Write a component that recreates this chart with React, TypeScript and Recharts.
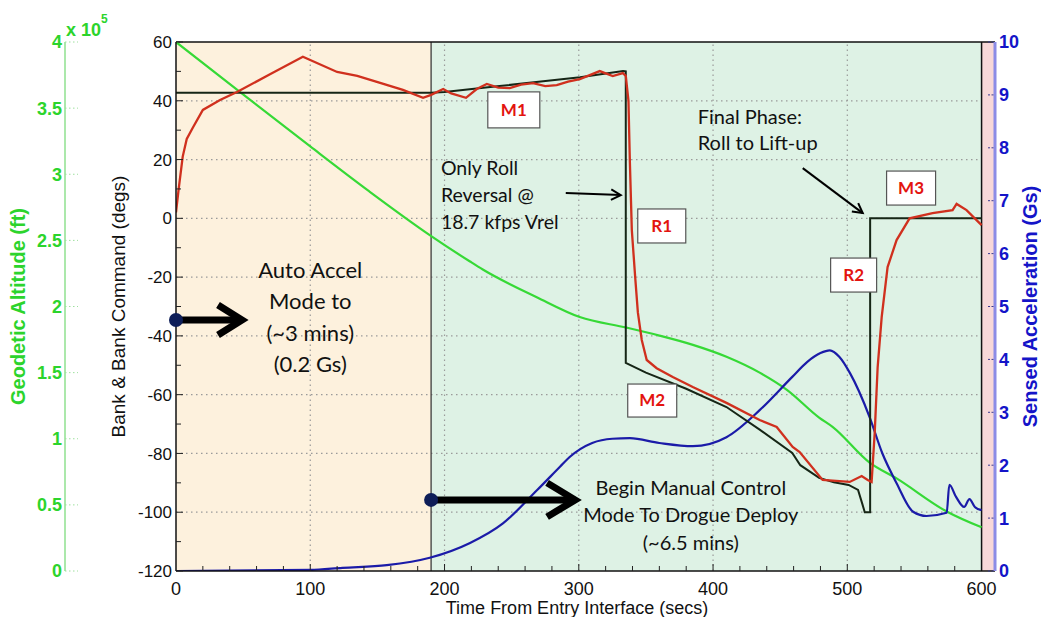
import React from 'react';
import {
  ComposedChart, Line, XAxis, YAxis,
  ReferenceArea, ReferenceLine, ReferenceDot,
} from 'recharts';

// bank command (black)
const cmdTime = [0, 190, 200, 217, 241, 270, 301, 333, 335, 335, 350, 380, 410, 435, 459, 465, 479, 490, 501, 508, 511, 513, 517, 517, 600];
const cmdDeg = [42.7, 42.7, 43, 43.8, 45, 46.5, 48, 50.1, 50, -49.2, -52.5, -58, -64.2, -72, -79.8, -84, -88.3, -89.8, -90.7, -92.4, -96.9, -100, -100, 0, 0];

// actual bank (red)
const bankTime = [0, 2, 5, 8, 12.7, 20, 32.8, 45.4, 70, 94.5, 120, 135, 149.6, 169, 184, 190, 199, 205, 216, 224, 231.5, 240, 248.6, 257, 266, 275, 283.6, 292, 300.8, 315.6, 325.3, 332.8, 335, 337, 338, 339.5, 342, 344, 346.9, 350.6, 358, 370, 384.9, 410, 434.7, 447.4, 459.3, 464.5, 481.6, 501.8, 510.7, 515.2, 518.1, 520.4, 522.6, 525.6, 530, 536.7, 546.4, 563.5, 578.4, 581.4, 588.8, 600];
const bankDeg = [2, 10, 21, 27, 31, 36.9, 40.3, 43, 49, 55, 49.8, 48.5, 46.4, 43.7, 41, 42, 44, 42.5, 41, 44, 45.7, 44.5, 44.3, 45.5, 46, 45, 45.3, 46.5, 47.4, 50.1, 48.4, 49.4, 48.5, 40, 20, -4, -20, -32, -41.4, -48.2, -51, -54, -57.4, -62.8, -68.6, -71, -77.8, -79.5, -89, -89.7, -87.7, -89, -89.7, -73, -50.6, -33.6, -16.6, -7.4, 0, 1.8, 2.8, 4.9, 2.8, -2.3];

// geodetic altitude, x 10^5 ft (green)
const altTime = [0, 45.4, 100, 144, 189, 219, 228.5, 268.7, 300.7, 335.7, 360, 385, 410, 434.7, 455, 479, 489, 516.6, 536.7, 574, 600];
const altVal = [4.0, 3.64, 3.21, 2.87, 2.54, 2.34, 2.28, 2.07, 1.92, 1.84, 1.78, 1.71, 1.62, 1.5, 1.37, 1.16, 1.09, 0.82, 0.7, 0.45, 0.33];

// sensed acceleration, Gs (blue)
const accTime = [0, 100, 124, 157, 189, 219, 243.5, 269, 286, 293, 310, 325, 338, 360, 385, 410, 434.7, 459, 470, 480, 487, 494, 502, 516.6, 526, 536.7, 549, 559, 574, 576, 581, 587, 591, 595, 600];
const accVal = [0, 0.02, 0.06, 0.11, 0.25, 0.53, 0.9, 1.53, 1.97, 2.15, 2.42, 2.5, 2.51, 2.42, 2.36, 2.53, 3.04, 3.67, 3.95, 4.12, 4.17, 4.05, 3.74, 2.91, 2.23, 1.66, 1.12, 1.04, 1.1, 1.63, 1.4, 1.21, 1.36, 1.21, 1.15];

const timeTicks = [0, 20, 40, 60, 80, 100, 120, 140, 160, 180, 200, 220, 240, 260, 280, 300, 320, 340, 360, 380, 400, 420, 440, 460, 480, 500, 520, 540, 560, 580, 600];
const bankTicks = [-120, -110, -100, -90, -80, -70, -60, -50, -40, -30, -20, -10, 0, 10, 20, 30, 40, 50, 60];
const altTicks = [0, 0.5, 1, 1.5, 2, 2.5, 3, 3.5, 4];
const accTicks = [0, 1, 2, 3, 4, 5, 6, 7, 8, 9, 10];
const gridTimes = [100, 200, 300, 400, 500];
const gridDegs = [40, 20, 0, -20, -40, -60, -80, -100];

const zip = (ts: number[], vs: number[]) => ts.map((t, i) => ({ t, v: vs[i] }));
const cmdData = zip(cmdTime, cmdDeg);
const bankData = zip(bankTime, bankDeg);
const altData = zip(altTime, altVal);
const accData = zip(accTime, accVal);

const AXIS_FONT = '"Liberation Sans", Arial, sans-serif';
const NOTE_FONT = 'Lato, "Open Sans", sans-serif';
const GREEN = '#36d936';
const GREEN_TXT = '#2cd42c';
const RED = '#d0301e';
const CMD = '#162616';
const BLUE = '#1b1ba8';
const BLUE_TXT = '#1414c8';

// axis ids: recharts stacks same-side axes in id order, first one next to the plot
const BANK = 'axBank';
const ALT = 'ayAlt';
const ACC = 'azAcc';

function TimeTick(p: any) {
  const { x, y, payload } = p;
  const v = payload.value;
  const major = v % 100 === 0;
  return (
    <g>
      {v > 0 && v < 600 && <line x1={x} x2={x} y1={y} y2={y - (major ? 7 : 5)} stroke="#222" />}
      {major && (
        <text x={x} y={y + 24} textAnchor="middle" fontSize={18} fill="#111" fontFamily={AXIS_FONT}>{v}</text>
      )}
    </g>
  );
}

function BankTick(p: any) {
  const { x, y, payload } = p;
  const v = payload.value;
  const major = v % 20 === 0;
  return (
    <g>
      <line x1={x + 4} x2={x + 4 + (major ? 7 : 5)} y1={y} y2={y} stroke="#222" />
      {major && (
        <text x={x} y={y} dy="0.36em" textAnchor="end" fontSize={17} fill="#111" fontFamily={AXIS_FONT}>{v}</text>
      )}
    </g>
  );
}

function AltTick(p: any) {
  const { x, y, payload } = p;
  return (
    <g>
      <line x1={x + 3} x2={x + 16} y1={y} y2={y} stroke="#9ee09e" strokeDasharray="1.5 2.5" />
      <text x={x} y={y} dy="0.36em" textAnchor="end" fontSize={18} fontWeight="bold" fill={GREEN_TXT} fontFamily={AXIS_FONT}>
        {payload.value}
      </text>
    </g>
  );
}

function AccTick(p: any) {
  const { x, y, payload } = p;
  return (
    <g>
      <line x1={x - 11} x2={x - 4} y1={y} y2={y} stroke="#3a3a90" strokeDasharray="2 1.5" />
      <text x={x} y={y} dy="0.36em" textAnchor="start" fontSize={18} fontWeight="bold" fill={BLUE_TXT} fontFamily={AXIS_FONT}>
        {payload.value}
      </text>
    </g>
  );
}

function AltLabel(p: any) {
  const vb = p.viewBox;
  const cy = vb.y + vb.height / 2;
  return (
    <g fontFamily={AXIS_FONT}>
      <text x={18} y={cy} transform={`rotate(-90 18 ${cy})`} textAnchor="middle" dominantBaseline="central"
        fontSize={20} fontWeight="bold" fill={GREEN_TXT}>
        Geodetic Altitude (ft)
      </text>
      <text x={vb.x + vb.width + 1} y={vb.y - 6} fontSize={18} fontWeight="bold" fill={GREEN_TXT}>x 10</text>
      <text x={vb.x + vb.width + 36} y={vb.y - 19} fontSize={12} fontWeight="bold" fill={GREEN_TXT}>5</text>
    </g>
  );
}

function BankLabel(p: any) {
  const vb = p.viewBox;
  const cx = vb.x + 53;
  const cy = vb.y + vb.height / 2;
  return (
    <text x={cx} y={cy} transform={`rotate(-90 ${cx} ${cy})`} textAnchor="middle" dominantBaseline="central"
      fontSize={19} fill="#111" fontFamily={AXIS_FONT}>
      Bank &amp; Bank Command (degs)
    </text>
  );
}

function AccLabel(p: any) {
  const vb = p.viewBox;
  const cx = vb.x + 35;
  const cy = vb.y + vb.height / 2;
  return (
    <text x={cx} y={cy} transform={`rotate(-90 ${cx} ${cy})`} textAnchor="middle" dominantBaseline="central"
      fontSize={20} fontWeight="bold" fill={BLUE_TXT} fontFamily={AXIS_FONT}>
      Sensed Acceleration (Gs)
    </text>
  );
}

function TimeLabel(p: any) {
  const vb = p.viewBox;
  return (
    <text x={vb.x + 401} y={vb.y + 43} textAnchor="middle" fontSize={18} fill="#111" fontFamily={AXIS_FONT}>
      Time From Entry Interface (secs)
    </text>
  );
}

const noteLines = (cx: number, cy: number, lines: string[], size: number, gap: number, anchor: 'start' | 'middle') => (
  <g>
    {lines.map((s, i) => (
      <text key={i} x={cx} y={cy + i * gap} dy="0.35em" textAnchor={anchor} fontSize={size}
        fill="#111" fontFamily={NOTE_FONT}>{s}</text>
    ))}
  </g>
);

const thickArrow = (cx: number, cy: number, len: number, back: number, half: number) => (
  <g>
    <line x1={cx} y1={cy} x2={cx + len - 6} y2={cy} stroke="#000" strokeWidth={7} />
    <polyline points={`${cx + len - back},${cy - half} ${cx + len - 6},${cy} ${cx + len - back},${cy + half}`}
      fill="none" stroke="#000" strokeWidth={7} strokeLinejoin="miter" />
    <circle cx={cx} cy={cy} r={7} fill="#0e1e58" />
  </g>
);

const thinArrow = (cx: number, cy: number, dx: number, dy: number) => {
  const a = Math.atan2(dy, dx);
  const tx = cx + dx, ty = cy + dy;
  const h = 11;
  const p1 = `${tx - h * Math.cos(a - 0.5)},${ty - h * Math.sin(a - 0.5)}`;
  const p2 = `${tx - h * Math.cos(a + 0.5)},${ty - h * Math.sin(a + 0.5)}`;
  return (
    <g stroke="#000" strokeWidth={2} fill="none">
      <line x1={cx} y1={cy} x2={tx} y2={ty} />
      <polyline points={`${p1} ${tx},${ty} ${p2}`} />
    </g>
  );
};

const tagBox = (cx: number, cy: number, w: number, h: number, s: string) => (
  <g>
    <rect x={cx - w / 2} y={cy - h / 2} width={w} height={h} fill="#fff" stroke="#555" strokeWidth={1.2} />
    <text x={cx} y={cy} dy="0.35em" textAnchor="middle" fontSize={17} fontWeight="bold" fill="#e3140f" fontFamily={NOTE_FONT}>{s}</text>
  </g>
);

export default function App() {
  return (
    <div style={{ position: 'absolute', left: 0, top: 0, width: 1041, height: 617, background: '#fff' }}>
      <ComposedChart width={1041} height={617} margin={{ top: 42, right: 0, bottom: 1, left: 0 }}
        style={{ fontFamily: AXIS_FONT }}>
        <XAxis dataKey="t" type="number" domain={[0, 610]} ticks={timeTicks} interval={0} allowDataOverflow
          tickSize={0} tickMargin={0} tickLine={false} tick={(p: any) => <TimeTick {...p} />}
          axisLine={{ stroke: '#111', strokeWidth: 1.5 }} height={45} label={(p: any) => <TimeLabel {...p} />} />
        <YAxis yAxisId={BANK} orientation="left" width={111} domain={[-120, 60]} ticks={bankTicks} interval={0}
          allowDataOverflow tickSize={0} tickMargin={4} tickLine={false} tick={(p: any) => <BankTick {...p} />}
          axisLine={{ stroke: '#111', strokeWidth: 1.5 }} label={(p: any) => <BankLabel {...p} />} />
        <YAxis yAxisId={ALT} orientation="left" width={65} domain={[0, 4]} ticks={altTicks} interval={0}
          allowDataOverflow tickSize={0} tickMargin={3} tickLine={false} tick={(p: any) => <AltTick {...p} />}
          axisLine={{ stroke: '#8fe08f', strokeWidth: 1.5 }} label={(p: any) => <AltLabel {...p} />} />
        <YAxis yAxisId={ACC} orientation="right" width={46} domain={[0, 10]} ticks={accTicks} interval={0}
          allowDataOverflow tickSize={0} tickMargin={4} tickLine={false} tick={(p: any) => <AccTick {...p} />}
          axisLine={{ stroke: '#8c8ce6', strokeWidth: 3 }} label={(p: any) => <AccLabel {...p} />} />

        <ReferenceArea yAxisId={BANK} x1={0} x2={190} y1={-120} y2={60} fill="#fdf1dd" fillOpacity={1} stroke="none" />
        <ReferenceArea yAxisId={BANK} x1={190} x2={600} y1={-120} y2={60} fill="#def2e5" fillOpacity={1} stroke="none" />
        <ReferenceArea yAxisId={BANK} x1={600} x2={610} y1={-120} y2={60} fill="#f8d8d8" fillOpacity={1} stroke="none" />

        {gridTimes.map((t) => (
          <ReferenceLine key={`gx${t}`} yAxisId={BANK} x={t} stroke="#9a9a9a" strokeWidth={1.2} strokeDasharray="1.5 3.5" />
        ))}
        {gridDegs.map((d) => (
          <ReferenceLine key={`gy${d}`} yAxisId={BANK} segment={[{ x: 0, y: d }, { x: 600, y: d }]}
            stroke="#9a9a9a" strokeWidth={1.2} strokeDasharray="1.5 3.5" />
        ))}
        <ReferenceLine yAxisId={BANK} x={190} stroke="#3c3c3c" strokeWidth={1.3} />
        <ReferenceLine yAxisId={BANK} x={600} stroke="#111" strokeWidth={1.5} />
        <ReferenceLine yAxisId={BANK} y={60} stroke="#111" strokeWidth={1.5} />

        <Line yAxisId={ALT} data={altData} dataKey="v" type="monotone" stroke={GREEN} strokeWidth={2.2}
          dot={false} activeDot={false} isAnimationActive={false} />
        <Line yAxisId={ACC} data={accData} dataKey="v" type="monotone" stroke={BLUE} strokeWidth={2.2}
          dot={false} activeDot={false} isAnimationActive={false} />
        <Line yAxisId={BANK} data={cmdData} dataKey="v" type="linear" stroke={CMD} strokeWidth={2}
          dot={false} activeDot={false} isAnimationActive={false} />
        <Line yAxisId={BANK} data={bankData} dataKey="v" type="linear" stroke={RED} strokeWidth={2.3}
          dot={false} activeDot={false} isAnimationActive={false} />

        <ReferenceDot yAxisId={BANK} x={100} y={-17.6} r={0} ifOverflow="visible"
          shape={(p: any) => noteLines(p.cx, p.cy, ['Auto Accel', 'Mode to', '(~3 mins)', '(0.2 Gs)'], 22, 31.5, 'middle')} />
        <ReferenceDot yAxisId={BANK} x={0} y={-34.6} r={0} ifOverflow="visible"
          shape={(p: any) => thickArrow(p.cx, p.cy, 72, 30, 15)} />
        <ReferenceDot yAxisId={BANK} x={190} y={-95.8} r={0} ifOverflow="visible"
          shape={(p: any) => thickArrow(p.cx, p.cy, 150, 34, 17)} />
        <ReferenceDot yAxisId={BANK} x={383.4} y={-91.75} r={0} ifOverflow="visible"
          shape={(p: any) => noteLines(p.cx, p.cy, ['Begin Manual Control', 'Mode To Drogue Deploy', '(~6.5 mins)'], 20, 27.5, 'middle')} />
        <ReferenceDot yAxisId={BANK} x={197.3} y={17.1} r={0} ifOverflow="visible"
          shape={(p: any) => noteLines(p.cx, p.cy, ['Only Roll', 'Reversal @', '18.7 kfps Vrel'], 19.5, 27, 'start')} />
        <ReferenceDot yAxisId={BANK} x={290.3} y={8.6} r={0} ifOverflow="visible"
          shape={(p: any) => thinArrow(p.cx, p.cy, 55, 2)} />
        <ReferenceDot yAxisId={BANK} x={388.6} y={34.5} r={0} ifOverflow="visible"
          shape={(p: any) => noteLines(p.cx, p.cy, ['Final Phase:', 'Roll to Lift-up'], 20, 26.5, 'start')} />
        <ReferenceDot yAxisId={BANK} x={466.8} y={17.1} r={0} ifOverflow="visible"
          shape={(p: any) => thinArrow(p.cx, p.cy, 60, 45)} />
        <ReferenceDot yAxisId={BANK} x={251.6} y={36.9} r={0} ifOverflow="visible"
          shape={(p: any) => tagBox(p.cx, p.cy, 52, 36, 'M1')} />
        <ReferenceDot yAxisId={BANK} x={361.8} y={-2.6} r={0} ifOverflow="visible"
          shape={(p: any) => tagBox(p.cx, p.cy, 48, 34, 'R1')} />
        <ReferenceDot yAxisId={BANK} x={354.7} y={-62} r={0} ifOverflow="visible"
          shape={(p: any) => tagBox(p.cx, p.cy, 49, 33, 'M2')} />
        <ReferenceDot yAxisId={BANK} x={504.7} y={-19.3} r={0} ifOverflow="visible"
          shape={(p: any) => tagBox(p.cx, p.cy, 46, 34, 'R2')} />
        <ReferenceDot yAxisId={BANK} x={547.5} y={10.3} r={0} ifOverflow="visible"
          shape={(p: any) => tagBox(p.cx, p.cy, 49, 34, 'M3')} />
      </ComposedChart>
    </div>
  );
}
